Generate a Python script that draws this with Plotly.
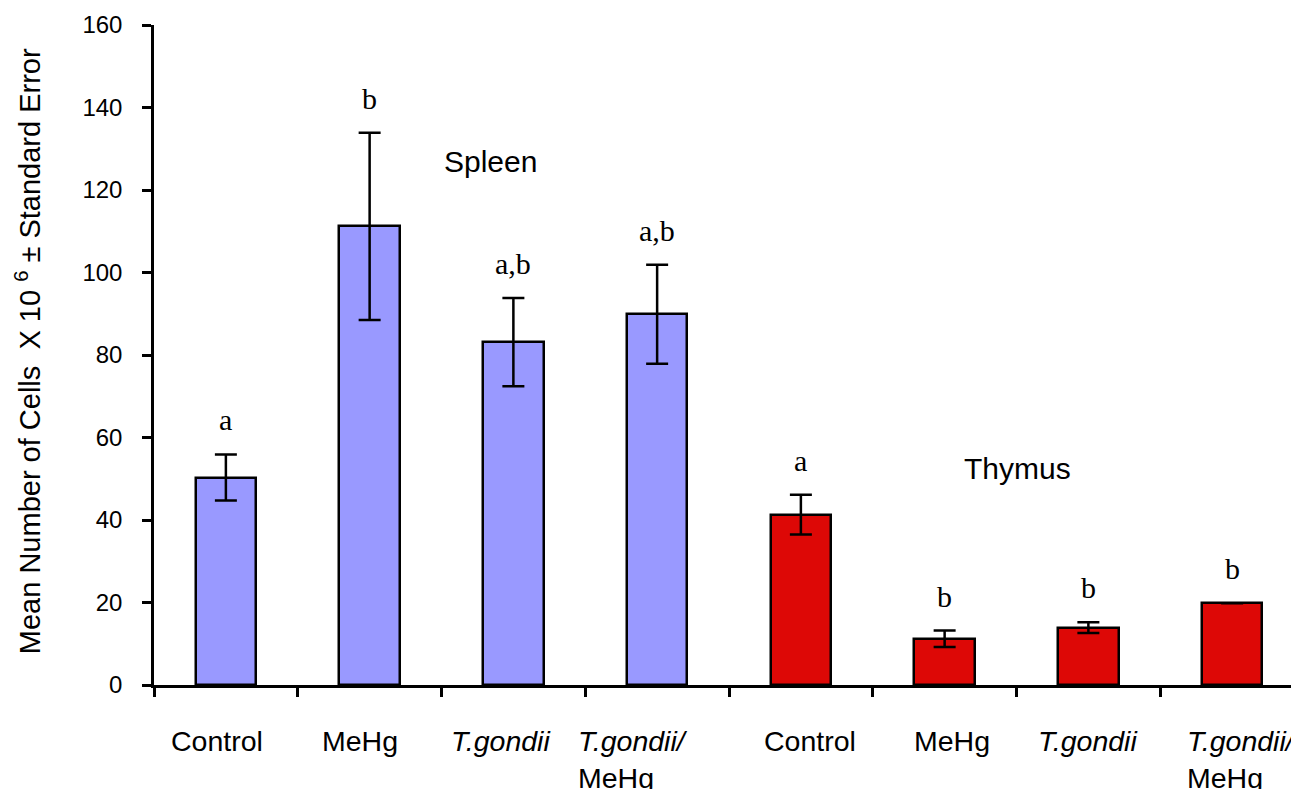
import plotly.graph_objects as go

categories = ["Control", "MeHg", "<i>T.gondii</i>", "<i>T.gondii/</i><br>MeHg",
              "Control", "MeHg", "<i>T.gondii</i>", "<i>T.gondii/</i><br>MeHg"]
spleen_vals = [50.3, 111.2, 83.1, 89.9]
spleen_err = [5.6, 22.7, 10.7, 12.0]
thymus_vals = [41.3, 11.2, 13.9, 19.8]
thymus_err = [4.8, 2.0, 1.3, 0.0]
letters = ["a", "b", "a,b", "a,b", "a", "b", "b", "b"]
y_ticks = [0, 20, 40, 60, 80, 100, 120, 140, 160]

# label nudges in pixels (style only)
label_nudge = [-9, -10, -13, -24, 9, 7, -1, 10]

FONT = "Liberation Sans, Arial, sans-serif"
SERIF = "Liberation Serif, Times New Roman, serif"

xs_spleen = [0, 1, 2, 3]
xs_thymus = [4, 5, 6, 7]

fig = go.Figure()
fig.add_trace(go.Bar(
    x=xs_spleen, y=spleen_vals, width=0.42,
    marker=dict(color="#9999FF", line=dict(color="black", width=2.5)),
    error_y=dict(type="data", array=spleen_err, visible=True,
                 color="black", thickness=2.5, width=11),
    showlegend=False))
fig.add_trace(go.Bar(
    x=xs_thymus, y=thymus_vals, width=0.42,
    marker=dict(color="#DD0806", line=dict(color="black", width=2.5)),
    error_y=dict(type="data", array=[e if e > 0 else None for e in thymus_err], visible=True,
                 color="black", thickness=2.5, width=11),
    showlegend=False))

annotations = []
all_vals = spleen_vals + thymus_vals
all_err = spleen_err + thymus_err
for i, (v, e, t) in enumerate(zip(all_vals, all_err, letters)):
    annotations.append(dict(x=i, y=v + e, xref="x", yref="y", text=t,
                            showarrow=False, yanchor="bottom", yshift=16,
                            font=dict(family=SERIF, size=30, color="black")))
for i, c in enumerate(categories):
    annotations.append(dict(x=i, y=-0.057, xref="x", yref="paper", text=c,
                            showarrow=False, yanchor="top", xanchor="center",
                            align="left", xshift=label_nudge[i],
                            font=dict(family=FONT, size=28.5, color="black")))
annotations.append(dict(x=1.84, y=126.9, xref="x", yref="y", text="Spleen",
                        showarrow=False, font=dict(family=FONT, size=30, color="black")))
annotations.append(dict(x=5.51, y=52.4, xref="x", yref="y", text="Thymus",
                        showarrow=False, font=dict(family=FONT, size=30, color="black")))
annotations.append(dict(x=-0.11, y=0.505, xref="paper", yref="paper",
                        xanchor="center", yanchor="middle",
                        text="Mean Number of Cells \u00a0X 10 <sup>6</sup> \u00b1 Standard Error",
                        textangle=-90, showarrow=False,
                        font=dict(family=FONT, size=29, color="black")))

fig.update_layout(
    width=1299, height=789,
    margin=dict(l=146, r=3, t=15, b=112),
    paper_bgcolor="white", plot_bgcolor="white",
    bargap=0,
    annotations=annotations,
    xaxis=dict(range=[-0.5, 7.5], showline=True, linecolor="black", linewidth=2.5,
               tickvals=[i + 0.5 for i in range(-1, 8)], ticktext=[""] * 9,
               ticks="outside", ticklen=9, tickwidth=2.5, tickcolor="black",
               showgrid=False, zeroline=False, fixedrange=True),
    yaxis=dict(range=[0, 160], showline=True, linecolor="black", linewidth=2.5,
               tickvals=y_ticks, ticks="outside", ticklen=9, tickwidth=2.5,
               tickcolor="black", ticklabelstandoff=15,
               tickfont=dict(family=FONT, size=24, color="black"),
               showgrid=False, zeroline=False),
)

fig.write_html("out.html")
